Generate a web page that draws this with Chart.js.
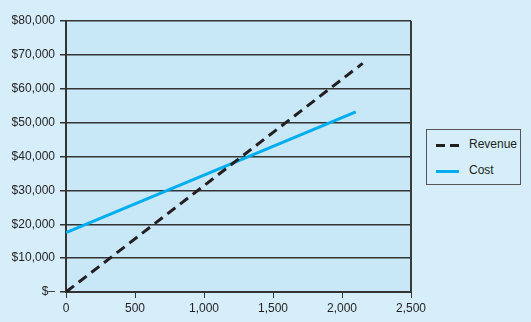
<!DOCTYPE html>
<html>
<head>
<meta charset="utf-8">
<script src="https://cdn.jsdelivr.net/npm/chart.js@4"></script>
<style>
  html, body { margin: 0; padding: 0; background: #d6eefa; }
  #wrap { position: relative; width: 531px; height: 322px; }
  #legend {
    position: absolute; left: 426px; top: 129px; width: 95px; height: 56px;
    box-sizing: border-box; border: 1px solid #555; background: #d6eefa;
    font: 12px "Liberation Sans", Arial, sans-serif; color: #231f20;
  }
  .item { position: absolute; left: 9px; height: 14px; }
  .item span { position: absolute; left: 33px; top: -1px; white-space: nowrap; }
  .sw { position: absolute; left: 0; top: 6px; width: 23px; height: 3px; }
</style>
</head>
<body>
<div id="wrap">
  <canvas id="chart" width="531" height="322"></canvas>
  <div id="legend">
    <div class="item" style="top:8px"><div class="sw" style="background:linear-gradient(90deg,#231f20 0 9px,transparent 9px 14px,#231f20 14px 23px)"></div><span>Revenue</span></div>
    <div class="item" style="top:34px"><div class="sw" style="background:#00aeef"></div><span>Cost</span></div>
  </div>
</div>
<script>
const units = [0, 2150];
const revenue = [0, 67500];
const costUnits = [0, 2100];
const cost = [17500, 53200];
const xTicks = [0, 500, 1000, 1500, 2000, 2500];

const ink = '#231f20';

const plotBg = {
    id: 'plotBg',
    beforeDraw(chart) {
        const {ctx, chartArea: a} = chart;
        ctx.save();
        ctx.fillStyle = '#c8e8f8';
        ctx.fillRect(a.left, a.top, a.right - a.left, a.bottom - a.top);
        ctx.restore();
    },
    afterDatasetsDraw(chart) {
        const {ctx, chartArea: a} = chart;
        ctx.save();
        ctx.strokeStyle = '#3a3a3a';
        ctx.lineWidth = 2;
        ctx.beginPath();
        ctx.moveTo(a.right, a.top);
        ctx.lineTo(a.right, a.bottom);
        ctx.stroke();
        ctx.restore();
    }
};

new Chart(document.getElementById('chart'), {
    type: 'line',
    data: {
        datasets: [{
            label: 'Revenue',
            data: units.map((x, i) => ({x: x, y: revenue[i]})),
            borderColor: ink,
            borderWidth: 3,
            borderDash: [10, 6],
            pointRadius: 0
        }, {
            label: 'Cost',
            data: costUnits.map((x, i) => ({x: x, y: cost[i]})),
            borderColor: '#00aeef',
            borderWidth: 3,
            pointRadius: 0
        }]
    },
    options: {
        responsive: false,
        animation: false,
        layout: { padding: { top: 21, right: 120, left: 0, bottom: 0 } },
        plugins: { legend: { display: false }, tooltip: { enabled: false } },
        scales: {
            x: {
                type: 'linear',
                min: 0,
                max: 2500,
                afterBuildTicks: (scale) => { scale.ticks = xTicks.map(v => ({value: v})); },
                afterFit: (scale) => { scale.height = 30; },
                grid: { drawOnChartArea: false, drawTicks: true, tickLength: 6, color: '#333' },
                border: { color: '#333', width: 2 },
                ticks: {
                    color: ink,
                    padding: 3,
                    font: { family: 'Liberation Sans', size: 12 },
                    callback: (v) => v.toLocaleString('en-US')
                }
            },
            y: {
                min: 0,
                max: 80000,
                afterFit: (scale) => { scale.width = 66; },
                grid: { color: '#333', lineWidth: 1.5, tickLength: 6 },
                border: { color: '#333', width: 2 },
                ticks: {
                    stepSize: 10000,
                    color: ink,
                    padding: 5,
                    font: { family: 'Liberation Sans', size: 12 },
                    callback: (v) => v === 0 ? '$\u2013' : '$' + v.toLocaleString('en-US')
                }
            }
        }
    },
    plugins: [plotBg]
});
</script>
</body>
</html>
